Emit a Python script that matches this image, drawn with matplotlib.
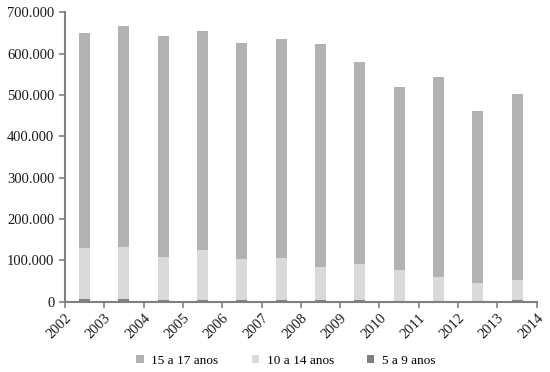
import matplotlib
matplotlib.use("Agg")
import matplotlib.pyplot as plt
from matplotlib.ticker import FuncFormatter
import numpy as np

years = ["2002", "2003", "2004", "2005", "2006", "2007", "2008", "2009", "2010", "2011", "2012", "2013"]
tick_labels = ["2002", "2003", "2004", "2005", "2006", "2007", "2008", "2009", "2010", "2011", "2012", "2013", "2014"]
# values in persons
age_5_9 = [7000, 7000, 3000, 5000, 5000, 3000, 3000, 3000, 700, 2000, 700, 3000]
age_10_14 = [124000, 126000, 105000, 120000, 98000, 103000, 81000, 88000, 76000, 58000, 44000, 49000]
age_15_17 = [519000, 535000, 535000, 530000, 523000, 529000, 539000, 489000, 442000, 484000, 416000, 450000]

plt.rcParams['font.family'] = ['Liberation Serif', 'DejaVu Serif']

fig = plt.figure(figsize=(5.5, 3.72), dpi=100)
ax = fig.add_axes([0.118, 0.189, 0.858, 0.778])

x = np.arange(len(years)) + 0.5
w = 0.28
c1, c2, c3 = "#b2b2b2", "#dadada", "#7f7f7f"
b59 = np.array(age_5_9)
b1014 = np.array(age_10_14)
ax.bar(x, age_15_17, w, bottom=b59 + b1014, color=c1, label="15 a 17 anos")
ax.bar(x, age_10_14, w, bottom=b59, color=c2, label="10 a 14 anos")
ax.bar(x, age_5_9, w, color=c3, label="5 a 9 anos")

ax.set_xlim(0, len(years))
ax.set_ylim(0, 700000)
ax.set_yticks(np.arange(0, 700001, 100000))
ax.yaxis.set_major_formatter(FuncFormatter(lambda v, p: f"{int(v):,}".replace(",", ".")))
ax.set_xticks(np.arange(len(tick_labels)))
ax.set_xticklabels(tick_labels, rotation=45, ha="right", rotation_mode="anchor")

for s in ["top", "right"]:
    ax.spines[s].set_visible(False)
for s in ["left", "bottom"]:
    ax.spines[s].set_color("#808080")
    ax.spines[s].set_linewidth(1.5)
ax.tick_params(axis="both", colors="#808080", labelcolor="#1a1a1a", length=4, width=1.2)
ax.tick_params(axis="y", labelsize=10.5)
ax.tick_params(axis="x", labelsize=10.5, pad=3)

handles, labels = ax.get_legend_handles_labels()
fig.legend(handles, labels, loc="center", bbox_to_anchor=(0.52, 0.03), ncol=3, frameon=False,
           fontsize=9.5, handlelength=0.55, handleheight=0.55, handletextpad=0.6, columnspacing=2.5)

fig.savefig("out.png", dpi=100)
